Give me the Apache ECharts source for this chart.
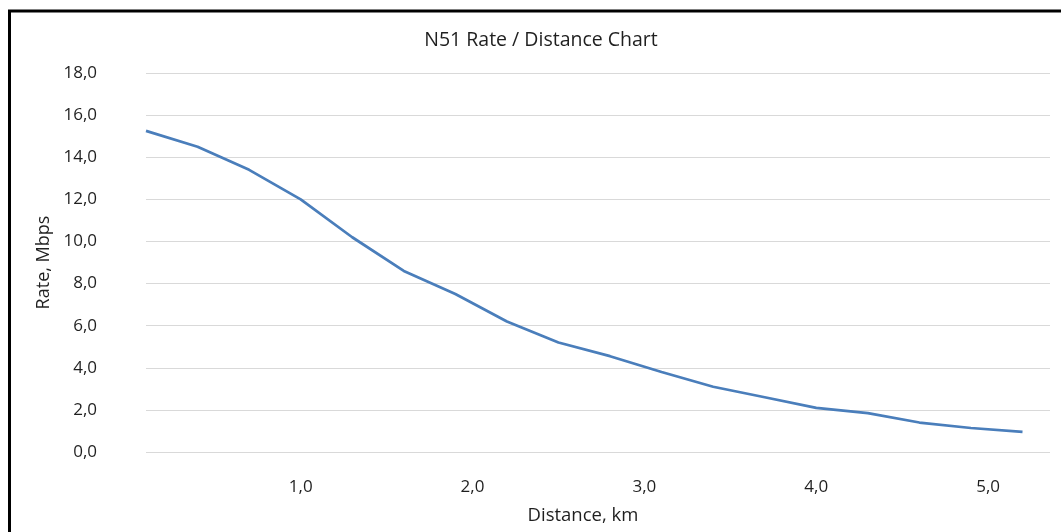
<!DOCTYPE html>
<html>
<head>
<meta charset="utf-8">
<script src="https://cdn.jsdelivr.net/npm/echarts@6/dist/echarts.min.js"></script>
<style>
html,body{margin:0;padding:0;background:#fff;}
#chart{width:1061px;height:532px;}
</style>
</head>
<body>
<div id="chart"></div>
<script>
var distanceKm = [0.1, 0.4, 0.7, 1.0, 1.3, 1.6, 1.9, 2.2, 2.5, 2.8, 3.1, 3.4, 3.7, 4.0, 4.3, 4.6, 4.9, 5.2];
var rateMbps = [15.25, 14.5, 13.4, 12.0, 10.2, 8.6, 7.5, 6.2, 5.2, 4.55, 3.8, 3.1, 2.6, 2.1, 1.85, 1.4, 1.14, 0.96];
var titleText = 'N51 Rate / Distance Chart';
var xAxisName = 'Distance, km';
var yAxisName = 'Rate, Mbps';

var points = distanceKm.map(function (d, i) { return [d, rateMbps[i]]; });
function fmt(v) { return v.toFixed(1).replace('.', ','); }

var chart = echarts.init(document.getElementById('chart'));
chart.setOption({
  backgroundColor: '#ffffff',
  animation: false,
  textStyle: { fontFamily: 'Open Sans' },
  title: {
    text: titleText,
    left: 536,
    top: 25,
    textAlign: 'center',
    textStyle: { fontFamily: 'Open Sans', fontSize: 19.5, fontWeight: 'normal', color: '#1f1f1f' }
  },
  graphic: [{
    type: 'rect',
    shape: { x: 9.5, y: 11, width: 1200, height: 700 },
    style: { fill: 'none', stroke: '#000000', lineWidth: 3 },
    silent: true
  }],
  grid: { left: 146, right: 11, top: 73, bottom: 80 },
  xAxis: {
    type: 'value',
    min: 0.1,
    max: 5.36,
    interval: 0.1,
    name: xAxisName,
    nameLocation: 'middle',
    nameGap: 54,
    nameTextStyle: { fontFamily: 'Open Sans', fontSize: 18.5, color: '#1f1f1f', padding: [0, 30, 0, 0] },
    axisLine: { show: false },
    axisTick: { show: false },
    splitLine: { show: false },
    axisLabel: {
      margin: 27,
      fontFamily: 'Open Sans',
      fontSize: 17,
      color: '#1f1f1f',
      formatter: function (v) {
        return Math.abs(v - Math.round(v)) < 1e-6 ? fmt(Math.round(v)) : '';
      }
    }
  },
  yAxis: {
    type: 'value',
    min: 0,
    max: 18,
    interval: 2,
    name: yAxisName,
    nameLocation: 'middle',
    nameGap: 91,
    nameTextStyle: { fontFamily: 'Open Sans', fontSize: 18, color: '#1f1f1f' },
    axisLine: { show: false },
    axisTick: { show: false },
    splitLine: { lineStyle: { color: '#d9d9d9', width: 1 } },
    axisLabel: {
      margin: 49,
      fontFamily: 'Open Sans',
      fontSize: 17,
      color: '#1f1f1f',
      formatter: function (v) { return fmt(v); }
    }
  },
  series: [{
    type: 'line',
    data: points,
    showSymbol: false,
    symbol: 'none',
    smooth: false,
    lineStyle: { color: '#4a7ebb', width: 2.75 },
    itemStyle: { color: '#4a7ebb' }
  }]
});
</script>
</body>
</html>
